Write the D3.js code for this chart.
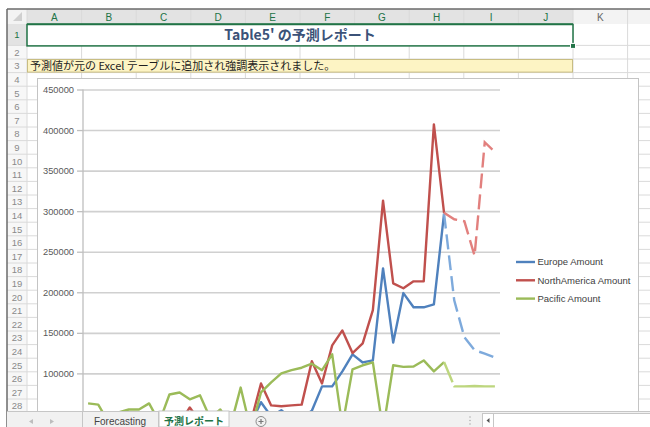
<!DOCTYPE html>
<html lang='ja'>
  <head>
    <meta charset='utf-8'>
    <title>Table5' の予測レポート</title>
    <script src='https://cdn.jsdelivr.net/npm/d3@7/dist/d3.min.js'></script>
    <style type='text/css'>
    body{ margin: 0; background: #fff; }
    svg{ display: block; }
    .grid line{ stroke: #d0d0d0; stroke-width: 1.6; }
    .grid path{ display: none; }
    .axis path, .axis line{ fill: none; stroke: #bfbfbf; stroke-width: 1.3; }
    .axis text{ font-family: 'Liberation Sans', Arial, sans-serif; font-size: 9.3px; fill: #595959; }
    .legend text{ font-family: 'Liberation Sans', Arial, sans-serif; font-size: 9.5px; fill: #404040; }
    .hdr{ font-family: 'Liberation Sans', Arial, sans-serif; font-size: 10px; text-anchor: middle; }
    .jp{ font-family: 'Noto Sans CJK JP', sans-serif; }
    </style>
  </head>
  <body>
    <script type='text/javascript'>

    var w = 650;
    var h = 427;

    // sheet
    var columns = ['A', 'B', 'C', 'D', 'E', 'F', 'G', 'H', 'I', 'J', 'K'];
    var rows = [1, 2, 3, 4, 5, 6, 7, 8, 9, 10, 11, 12, 13, 14, 15, 16, 17, 18, 19, 20, 21, 22, 23, 24, 25, 26, 27, 28];
    var titleText = "Table5' の予測レポート";
    var noteText = '予測値が元の Excel テーブルに追加され強調表示されました。';
    var sheetTabs = ['Forecasting', '予測レポート'];

    // chart data
    var periods = [1, 2, 3, 4, 5, 6, 7, 8, 9, 10, 11, 12, 13, 14, 15, 16, 17, 18, 19, 20,
                   21, 22, 23, 24, 25, 26, 27, 28, 29, 30, 31, 32, 33, 34, 35, 36, 37, 38, 39, 40, 41];
    var forecastPeriods = [36, 37, 38, 39, 40, 41];
    var seriesNames = ['Europe Amount', 'NorthAmerica Amount', 'Pacific Amount'];

    var europeAmount = [22000, 18000, 25000, 20000, 28000, 24000, 30000, 26000, 32000, 27000,
                        35000, 30000, 33000, 29000, 36000, 31000, 38000, 64500, 47000, 54500,
                        44000, 45000, 54000, 84000, 84000, 102500, 123500, 113500, 116000, 229500,
                        138000, 199000, 181500, 181500, 185000, 297000];
    var northAmericaAmount = [30000, 26000, 34000, 29000, 37000, 32000, 40000, 35000, 42000, 38000,
                              58000, 40000, 36000, 43000, 38000, 45000, 40000, 87500, 60500, 59500,
                              60500, 61500, 115000, 87500, 134500, 153000, 125000, 137000, 178000, 313000,
                              211000, 205000, 213500, 213500, 407000, 298000];
    var pacificAmount = [63000, 61500, 40000, 52000, 55500, 55500, 63000, 40000, 74000, 76500,
                         68000, 73000, 45000, 55500, 35000, 82500, 30000, 76500, 89000, 100000,
                         104000, 107000, 112000, 104000, 123500, 35000, 105000, 110000, 113500, 30000,
                         110000, 108000, 108500, 116000, 102500, 114000];

    var europeForecast = [297000, 190000, 144500, 128500, 124500, 119500];
    var northAmericaForecast = [298000, 290000, 287500, 245000, 385000, 373000];
    var pacificForecast = [114000, 84000, 84000, 84500, 84000, 84000];

    // only the ticks that show above the sheet tabs
    var yTicks = [100000, 150000, 200000, 250000, 300000, 350000, 400000, 450000];

    var colors = ['#4f81bd', '#c0504d', '#9bbb59'];
    var forecastColors = ['#7eaadc', '#e2807e', '#bdd67e'];
    var forecastDash = ['15,6', '15,6', '22,4,80'];

    var svg = d3.select('body')
                .append('svg')
                .attr('width', w)
                .attr('height', h);

    // ---- spreadsheet background ----
    var colX0 = 27, colW = 54.6;
    var headTop = 9, headBottom = 24;
    function rowTop(r){
      if (r === 1) return headBottom;
      return 45.4 + (r - 2) * 13.6;
    }
    function rowBottom(r){ return rowTop(r + 1); }

    // header backgrounds
    svg.append('rect').attr('x', 7).attr('y', headTop).attr('width', w - 7).attr('height', headBottom - headTop)
       .attr('fill', '#f3f3f3');
    svg.append('rect').attr('x', colX0).attr('y', headTop).attr('width', colW * 10).attr('height', headBottom - headTop)
       .attr('fill', '#e3e3e3');
    svg.append('rect').attr('x', 7).attr('y', headBottom).attr('width', colX0 - 7).attr('height', h - headBottom)
       .attr('fill', '#f7f7f7');
    svg.append('rect').attr('x', 7).attr('y', rowTop(1)).attr('width', colX0 - 7).attr('height', rowBottom(1) - rowTop(1))
       .attr('fill', '#e3e3e3');

    // cell grid
    var gridX = d3.range(0, 13).map(function(k){ return colX0 + k * colW; });
    svg.selectAll('line.vcell')
       .data(gridX)
       .enter()
       .append('line')
       .attr('x1', function(d){ return d; })
       .attr('x2', function(d){ return d; })
       .attr('y1', headTop)
       .attr('y2', h)
       .attr('stroke', '#dadada');
    svg.selectAll('line.hcell')
       .data(rows)
       .enter()
       .append('line')
       .attr('x1', 7)
       .attr('x2', w)
       .attr('y1', function(d){ return rowBottom(d); })
       .attr('y2', function(d){ return rowBottom(d); })
       .attr('stroke', '#dadada');
    svg.append('line').attr('x1', colX0).attr('x2', colX0 + colW * 10)
       .attr('y1', headBottom).attr('y2', headBottom).attr('stroke', '#217346').attr('stroke-width', 1.5);

    // column letters
    svg.selectAll('text.col')
       .data(columns)
       .enter()
       .append('text')
       .attr('class', 'hdr')
       .attr('x', function(d, i){ return colX0 + colW * (i + 0.5); })
       .attr('y', 20.5)
       .attr('fill', function(d, i){ return i < 10 ? '#217346' : '#666'; })
       .text(function(d){ return d; });

    // row numbers
    svg.selectAll('text.row')
       .data(rows)
       .enter()
       .append('text')
       .attr('class', 'hdr')
       .attr('x', 17)
       .attr('y', function(d){ return (rowTop(d) + rowBottom(d)) / 2 + 3.5; })
       .attr('fill', function(d){ return d === 1 ? '#217346' : '#8a8a8a'; })
       .style('font-size', '9.5px')
       .text(function(d){ return d; });

    // top-left corner triangle
    svg.append('path').attr('d', 'M22,12 L22,21 L13,21 Z').attr('fill', '#d0d0d0');

    // window frame
    svg.append('line').attr('x1', 7).attr('x2', w).attr('y1', headTop).attr('y2', headTop)
       .attr('stroke', '#6a6a6a').attr('stroke-width', 1.5);
    svg.append('line').attr('x1', 7).attr('x2', 7).attr('y1', headTop).attr('y2', h)
       .attr('stroke', '#6a6a6a').attr('stroke-width', 1.5);

    // title cell (A1:J1)
    svg.append('rect')
       .attr('x', colX0).attr('y', rowTop(1) + 0.5)
       .attr('width', colW * 10).attr('height', rowBottom(1) - rowTop(1))
       .attr('fill', '#fff').attr('stroke', '#217346').attr('stroke-width', 1.5);
    svg.append('rect').attr('x', colX0 + colW * 10 - 2.5).attr('y', rowBottom(1) - 2)
       .attr('width', 5).attr('height', 5).attr('fill', '#217346').attr('stroke', '#fff');
    svg.append('text')
       .attr('class', 'jp')
       .attr('x', colX0 + colW * 5)
       .attr('y', 40)
       .attr('text-anchor', 'middle')
       .attr('font-size', '14px')
       .attr('font-weight', 'bold')
       .attr('fill', '#3b5278')
       .text(titleText);

    // note cell (A3:J3)
    svg.append('rect')
       .attr('x', colX0 + 0.5).attr('y', rowTop(3) + 0.5)
       .attr('width', colW * 10 - 1).attr('height', rowBottom(3) - rowTop(3) - 1)
       .attr('fill', '#fdf4c4').attr('stroke', '#c8bd82');
    svg.append('text')
       .attr('class', 'jp')
       .attr('x', 30)
       .attr('y', rowTop(3) + 10.5)
       .attr('font-size', '11px')
       .attr('fill', '#1e1e1e')
       .text(noteText);

    // ---- chart object ----
    svg.append('rect')
       .attr('x', 37.5).attr('y', 78.5)
       .attr('width', 601).attr('height', 360)
       .attr('fill', '#fff').attr('stroke', '#c4c4c4');

    var plotLeft = 83, plotRight = 500;

    var xScale = d3.scalePoint()
                   .domain(periods)
                   .range([plotLeft, plotRight])
                   .padding(0.5);

    var yScale = d3.scaleLinear()
                   .domain([0, 450000])
                   .range([454.5, 89.5]);

    svg.append('g')
       .attr('class', 'grid')
       .attr('transform', 'translate(' + plotLeft + ',0)')
       .call(d3.axisLeft(yScale).tickValues(yTicks).tickSize(-(plotRight - plotLeft)).tickFormat(''));

    svg.append('g')
       .attr('class', 'axis')
       .attr('transform', 'translate(' + plotLeft + ',0)')
       .call(d3.axisLeft(yScale).tickValues(yTicks).tickFormat(d3.format('d'))
               .tickSize(6).tickSizeOuter(0).tickPadding(3));
    svg.select('.axis .domain').attr('d', 'M0,89.5V' + h);

    var line = d3.line()
                 .x(function(d){ return xScale(d[0]); })
                 .y(function(d){ return yScale(d[1]); });

    var actual = [europeAmount, northAmericaAmount, pacificAmount];
    var forecast = [europeForecast, northAmericaForecast, pacificForecast];

    var plot = svg.append('g');

    actual.forEach(function(vals, s){
      plot.append('path')
          .datum(vals.map(function(v, i){ return [periods[i], v]; }))
          .attr('d', line)
          .attr('fill', 'none')
          .attr('stroke', colors[s])
          .attr('stroke-width', 2.4)
          .attr('stroke-linejoin', 'round');
    });

    forecast.forEach(function(vals, s){
      plot.append('path')
          .datum(vals.map(function(v, i){ return [forecastPeriods[i], v]; }))
          .attr('d', line)
          .attr('fill', 'none')
          .attr('stroke', forecastColors[s])
          .attr('stroke-width', 2.4)
          .attr('stroke-dasharray', forecastDash[s]);
    });

    // legend
    var legend = svg.append('g').attr('class', 'legend');
    seriesNames.forEach(function(name, i){
      var ly = 262 + i * 18.3;
      legend.append('line')
            .attr('x1', 516).attr('x2', 535)
            .attr('y1', ly).attr('y2', ly)
            .attr('stroke', colors[i]).attr('stroke-width', 2.4);
      legend.append('text')
            .attr('x', 537.5).attr('y', ly + 3.3)
            .text(name);
    });

    // ---- sheet tab bar ----
    var tabY = 411;
    svg.append('rect').attr('x', 7).attr('y', tabY).attr('width', w - 7).attr('height', h - tabY)
       .attr('fill', '#f1f1f1');
    svg.append('line').attr('x1', 7).attr('x2', w).attr('y1', tabY + 0.5).attr('y2', tabY + 0.5)
       .attr('stroke', '#c6c6c6');
    svg.append('path').attr('d', 'M33,419 L29,421.5 L33,424 Z').attr('fill', '#bdbdbd');
    svg.append('path').attr('d', 'M50,419 L54,421.5 L50,424 Z').attr('fill', '#bdbdbd');
    svg.append('line').attr('x1', 82.5).attr('x2', 82.5).attr('y1', tabY).attr('y2', h).attr('stroke', '#c6c6c6');
    svg.append('line').attr('x1', 158.5).attr('x2', 158.5).attr('y1', tabY).attr('y2', h).attr('stroke', '#c6c6c6');
    svg.append('text')
       .attr('x', 120).attr('y', 424.5)
       .attr('text-anchor', 'middle')
       .attr('font-family', "'Liberation Sans', Arial, sans-serif")
       .attr('font-size', '10px')
       .attr('fill', '#444')
       .text(sheetTabs[0]);
    svg.append('rect').attr('x', 159).attr('y', tabY).attr('width', 70).attr('height', h - tabY)
       .attr('fill', '#fff').attr('stroke', '#c6c6c6');
    svg.append('text')
       .attr('class', 'jp')
       .attr('x', 194).attr('y', 424.5)
       .attr('text-anchor', 'middle')
       .attr('font-size', '10px')
       .attr('font-weight', 'bold')
       .attr('fill', '#217346')
       .text(sheetTabs[1]);
    svg.append('circle').attr('cx', 261).attr('cy', 421.5).attr('r', 5)
       .attr('fill', 'none').attr('stroke', '#8a8a8a');
    svg.append('path').attr('d', 'M258.5,421.5 H263.5 M261,419 V424').attr('stroke', '#777').attr('stroke-width', 1.2);
    [417, 420.5, 424].forEach(function(d){
      svg.append('circle').attr('cx', 470).attr('cy', d).attr('r', 0.8).attr('fill', '#b0b0b0');
    });
    svg.append('rect').attr('x', 482.5).attr('y', 413.5).attr('width', 170).attr('height', 14)
       .attr('fill', '#fff').attr('stroke', '#c6c6c6');
    svg.append('rect').attr('x', 482.5).attr('y', 413.5).attr('width', 11).attr('height', 14)
       .attr('fill', '#fff').attr('stroke', '#c6c6c6');
    svg.append('path').attr('d', 'M489.5,418 L486.5,420.5 L489.5,423 Z').attr('fill', '#555');

    </script>
  </body>
</html>
